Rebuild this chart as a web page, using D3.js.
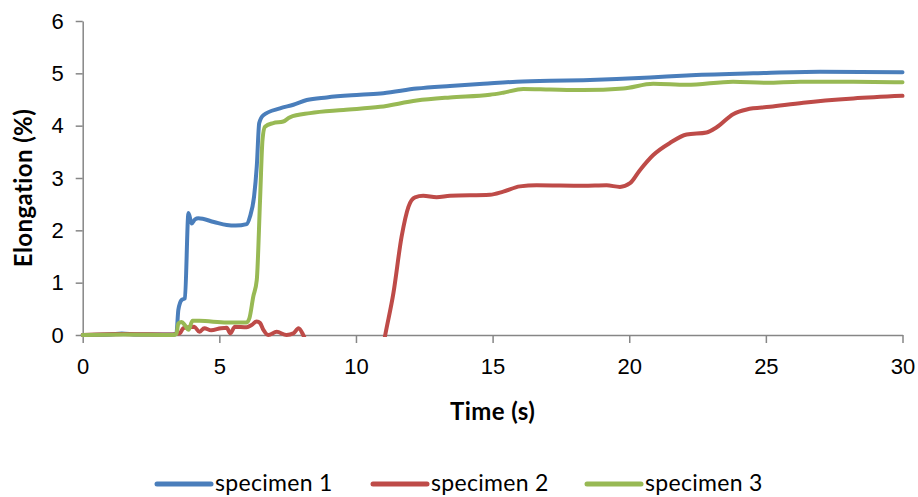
<!DOCTYPE html>
<html>
<head>
<meta charset="utf-8">
<script src="https://cdn.jsdelivr.net/npm/d3@7"></script>
<style>
  html, body { margin: 0; padding: 0; background: #fff; }
  svg { display: block; font-family: Lato, "Liberation Sans", sans-serif; }
</style>
</head>
<body>
<svg id="chart" width="918" height="497"></svg>
<script>
// Elongation of three specimens over time
const seriesNames = ["specimen 1", "specimen 2", "specimen 3"];
const seriesColors = ["#4a7ebb", "#be4b48", "#98b954"];

const time1 = [0, 1.0, 1.43, 2.0, 3.3, 3.43, 3.5, 3.62, 3.74, 3.87, 3.99, 4.11, 4.23, 4.8, 5.27, 5.6, 6.0, 6.12, 6.27, 6.37, 6.46, 6.61, 7.22, 7.71, 8.2, 8.93, 10.15, 11.0, 12.22, 13.44, 14.66, 15.88, 17.1, 18.32, 19.54, 20.76, 22.1, 24.54, 26.98, 30];
const elong1 = [0, 0.01, 0.03, 0.01, 0.01, 0.03, 0.48, 0.67, 0.70, 2.33, 2.13, 2.21, 2.23, 2.16, 2.10, 2.09, 2.12, 2.26, 2.64, 3.22, 4.05, 4.20, 4.33, 4.40, 4.49, 4.54, 4.59, 4.62, 4.71, 4.76, 4.80, 4.84, 4.86, 4.87, 4.89, 4.92, 4.96, 5.00, 5.03, 5.02];

const time2 = [0, 1.5, 3.3, 3.55, 3.68, 4.08, 4.27, 4.45, 4.7, 5.06, 5.27, 5.4, 5.57, 6.0, 6.18, 6.37, 6.49, 6.61, 6.79, 7.1, 7.46, 7.71, 7.9, 8.07, 8.3, 9.5, 10.9, 11.06, 11.37, 11.67, 11.92, 12.16, 12.46, 12.95, 13.44, 14.9, 15.39, 16.0, 16.61, 18.32, 19.17, 19.66, 20.03, 20.39, 20.88, 21.49, 22.1, 22.83, 23.2, 23.8, 24.3, 25.15, 26.37, 28.2, 30];
const elong2 = [0, 0.02, 0.01, 0.03, 0.13, 0.16, 0.06, 0.13, 0.09, 0.13, 0.14, 0.03, 0.16, 0.15, 0.19, 0.26, 0.23, 0.10, 0, 0.06, 0, 0.03, 0.13, 0, -0.3, -1.0, -0.5, -0.03, 0.80, 1.88, 2.45, 2.63, 2.66, 2.63, 2.66, 2.68, 2.74, 2.84, 2.86, 2.85, 2.86, 2.83, 2.90, 3.15, 3.44, 3.67, 3.83, 3.87, 3.97, 4.22, 4.31, 4.36, 4.44, 4.52, 4.57];

const time3 = [0, 1.5, 3.3, 3.43, 3.5, 3.62, 3.75, 3.87, 4.02, 4.27, 5.27, 6.0, 6.1, 6.24, 6.37, 6.49, 6.58, 6.67, 6.97, 7.34, 7.58, 8.32, 9.54, 10.88, 12.22, 13.44, 14.9, 15.39, 16.12, 17.1, 18.32, 19.78, 20.88, 22.1, 23.8, 25.03, 26.25, 28.2, 30];
const elong3 = [0, 0.01, 0, 0.02, 0.22, 0.25, 0.18, 0.10, 0.27, 0.27, 0.24, 0.24, 0.32, 0.73, 1.05, 2.58, 3.73, 3.98, 4.05, 4.08, 4.16, 4.24, 4.30, 4.36, 4.48, 4.54, 4.59, 4.63, 4.70, 4.69, 4.68, 4.71, 4.80, 4.78, 4.84, 4.82, 4.84, 4.84, 4.83];

const xTicks = [0, 5, 10, 15, 20, 25, 30];
const yTicks = [0, 1, 2, 3, 4, 5, 6];
const xTitle = "Time (s)";
const yTitle = "Elongation (%)";

const series = [
  { name: seriesNames[0], color: seriesColors[0], pts: time1.map((t, i) => [t, elong1[i]]) },
  { name: seriesNames[1], color: seriesColors[1], pts: time2.map((t, i) => [t, elong2[i]]) },
  { name: seriesNames[2], color: seriesColors[2], pts: time3.map((t, i) => [t, elong3[i]]) }
];

const svg = d3.select("#chart");
const plot = { left: 82.7, right: 902.5, top: 21, bottom: 335 };
const axisColor = "#868686";

const x = d3.scaleLinear().domain([0, 30]).range([plot.left, plot.right]);
const y = d3.scaleLinear().domain([0, 6]).range([plot.bottom, plot.top]);

// Y axis
const yAxis = svg.append("g")
  .attr("transform", `translate(${plot.left},0)`)
  .call(d3.axisLeft(y).tickValues(yTicks).tickSize(7).tickSizeOuter(0).tickPadding(12).tickFormat(d3.format("d")));
yAxis.select(".domain").attr("stroke", axisColor).attr("stroke-width", 1.5);
yAxis.selectAll(".tick line").attr("stroke", axisColor).attr("stroke-width", 1.5);
yAxis.selectAll(".tick text").attr("font-size", 22).attr("fill", "#000").attr("font-family", null);

// X axis
const xAxis = svg.append("g")
  .attr("transform", `translate(0,${plot.bottom})`)
  .call(d3.axisBottom(x).tickValues(xTicks).tickSize(8).tickSizeOuter(0).tickPadding(15).tickFormat(d3.format("d")));
xAxis.select(".domain").attr("stroke", axisColor).attr("stroke-width", 1.5);
xAxis.selectAll(".tick line").attr("stroke", axisColor).attr("stroke-width", 1.5);
xAxis.selectAll(".tick text").attr("font-size", 22).attr("fill", "#000").attr("font-family", null);

// Lines, clipped to the plot area
svg.append("clipPath").attr("id", "plotClip")
  .append("rect")
  .attr("x", plot.left - 3).attr("y", plot.top - 3)
  .attr("width", plot.right - plot.left + 6).attr("height", plot.bottom - plot.top + 5);

const line = d3.line()
  .x(d => x(d[0]))
  .y(d => y(d[1]))
  .curve(d3.curveMonotoneX);

svg.append("g").attr("clip-path", "url(#plotClip)")
  .selectAll("path")
  .data(series)
  .join("path")
  .attr("d", d => line(d.pts))
  .attr("fill", "none")
  .attr("stroke", d => d.color)
  .attr("stroke-width", 4)
  .attr("stroke-linejoin", "round")
  .attr("stroke-linecap", "round");

// Axis titles
svg.append("text")
  .attr("x", (plot.left + plot.right) / 2).attr("y", 410)
  .attr("text-anchor", "middle").attr("dominant-baseline", "central")
  .attr("font-size", 24).attr("font-weight", "bold").attr("letter-spacing", 0.4)
  .text(xTitle);

svg.append("text")
  .attr("transform", "translate(22,188) rotate(-90)")
  .attr("text-anchor", "middle").attr("dominant-baseline", "central")
  .attr("font-size", 24).attr("font-weight", "bold").attr("letter-spacing", 0.4)
  .text(yTitle);

// Legend
const legendX = [157, 373, 587];
const legend = svg.append("g").selectAll("g")
  .data(series)
  .join("g")
  .attr("transform", (d, i) => `translate(${legendX[i]},482)`);
legend.append("line")
  .attr("x1", 0).attr("x2", 54).attr("y1", 2).attr("y2", 2)
  .attr("stroke", d => d.color).attr("stroke-width", 5).attr("stroke-linecap", "round");
legend.append("text")
  .attr("x", 58).attr("y", 0)
  .attr("dominant-baseline", "central")
  .attr("font-size", 23).attr("letter-spacing", 0.3)
  .text(d => d.name);
</script>
</body>
</html>
